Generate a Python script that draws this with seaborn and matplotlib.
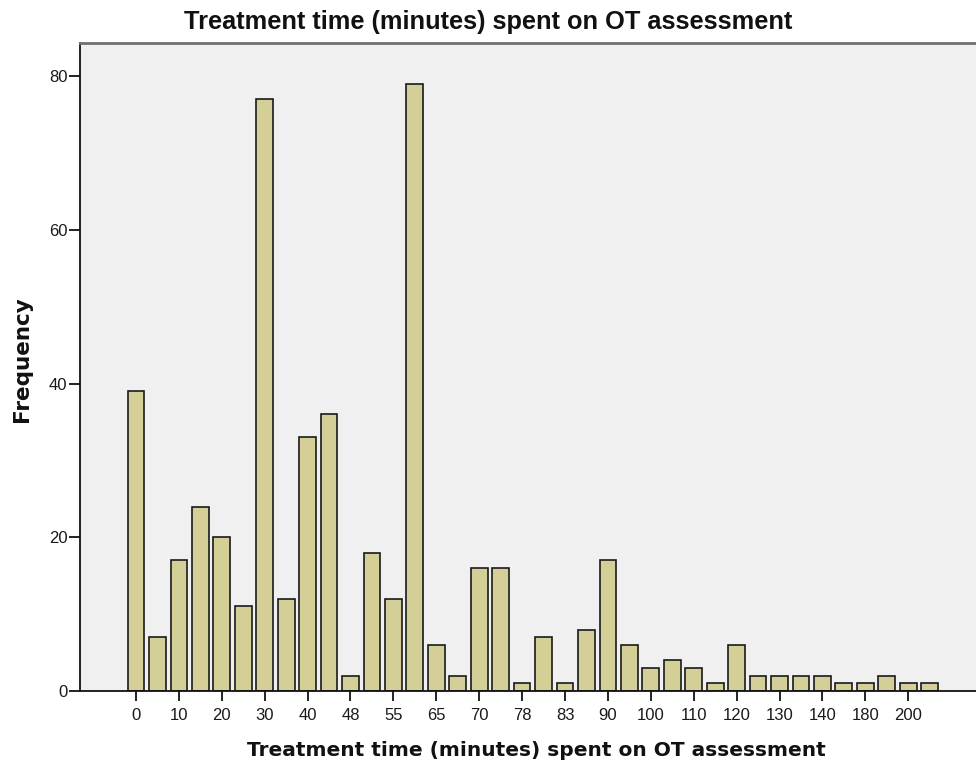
import matplotlib
matplotlib.use("Agg")
import matplotlib.pyplot as plt
import seaborn as sns
import pandas as pd

# Treatment time categories (minutes) and their frequencies
minutes = ["0", "5", "10", "15", "20", "25", "30", "35", "40", "45",
           "48", "50", "55", "60", "65", "67", "70", "75", "78", "80",
           "83", "85", "90", "95", "100", "105", "110", "115", "120", "125",
           "130", "135", "140", "150", "180", "190", "200", "240"]
frequency = [39, 7, 17, 24, 20, 11, 77, 12, 33, 36,
             2, 18, 12, 79, 6, 2, 16, 16, 1, 7,
             1, 8, 17, 6, 3, 4, 3, 1, 6, 2,
             2, 2, 2, 1, 1, 2, 1, 1]
shown_ticks = ["0", "10", "20", "30", "40", "48", "55", "65", "70", "78",
               "83", "90", "100", "110", "120", "130", "140", "180", "200"]
y_ticks = [0, 20, 40, 60, 80]

df = pd.DataFrame({"minutes": minutes, "frequency": frequency})

sns.set_theme(style="white")
plt.rcParams["font.family"] = ["Liberation Sans", "DejaVu Sans"]

fig = plt.figure(figsize=(9.76, 7.69), dpi=100)
ax = fig.add_axes([80 / 976, 1 - 691 / 769, 1 - 80 / 976, (691 - 43) / 769])
ax.set_facecolor("#F0F0F0")

sns.barplot(data=df, x="minutes", y="frequency", order=minutes,
            color="#D4CF97", saturation=1, edgecolor="#1a1a1a",
            linewidth=1.2, width=0.78, ax=ax)

ax.set_xlim(-2.61, 39.16)
ax.set_ylim(0, 84.3)

pos = [minutes.index(t) for t in shown_ticks]
ax.set_xticks(pos)
ax.set_xticklabels(shown_ticks, fontsize=12, color="#1a1a1a")
ax.set_yticks(y_ticks)
ax.set_yticklabels([str(v) for v in y_ticks], fontsize=12, color="#1a1a1a")
ax.tick_params(axis="x", direction="out", length=7, width=1.3,
               color="#111111", pad=5, bottom=True)
ax.tick_params(axis="y", direction="out", length=8, width=1.3,
               color="#111111", pad=1, left=True)

ax.spines["right"].set_visible(False)
ax.spines["top"].set_color("#707070")
ax.spines["top"].set_linewidth(2)
ax.spines["left"].set_color("#111111")
ax.spines["left"].set_linewidth(1.3)
ax.spines["bottom"].set_color("#111111")
ax.spines["bottom"].set_linewidth(1.3)

ax.set_xlabel("Treatment time (minutes) spent on OT assessment",
              fontsize=14.5, fontweight="bold", family="DejaVu Sans",
              color="#111111")
ax.xaxis.set_label_coords(0.509, -0.077)
ax.set_ylabel("Frequency", fontsize=15.5, fontweight="bold",
              family="DejaVu Sans", color="#111111")
ax.yaxis.set_label_coords(-0.054, 0.512)
fig.text(0.5, 1 - 22 / 769, "Treatment time (minutes) spent on OT assessment",
         ha="center", va="center", fontsize=18.3, fontweight="bold",
         color="#111111")

fig.savefig("out.png", dpi=100, facecolor="white")
